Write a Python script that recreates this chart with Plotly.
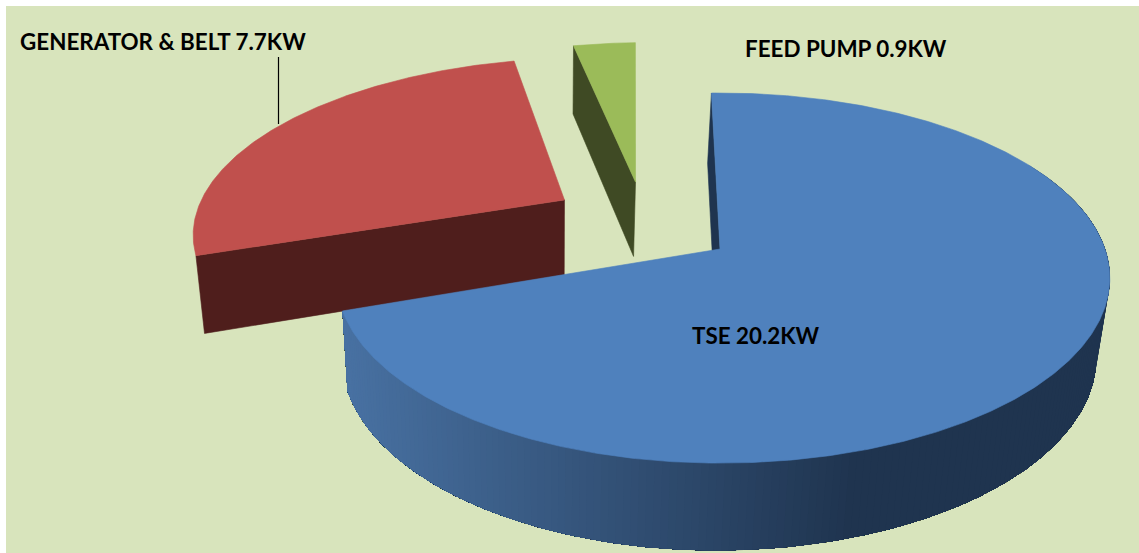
import math
import plotly.graph_objects as go

# ---- data ----
labels = ["TSE", "GENERATOR & BELT", "FEED PUMP"]
values_kw = [20.2, 7.7, 0.9]
label_texts = ["TSE 20.2KW", "GENERATOR & BELT 7.7KW", "FEED PUMP 0.9KW"]
top_colors = ["#4f81bd", "#c0504d", "#9bbb59"]
wall_colors = ["#1f344f", "#4f1e1c", "#3f4a24"]
explode_x = [0.0, -0.422, -0.233]
explode_y = [0.0, 0.284, 0.394]
slice_radius = [1.0, 0.985, 1.0]
slice_turn = [0.0, 0.0, -0.5]
label_x = [756, 163, 846]
label_y = [335, 41, 48]

# ---- projection of the tilted pie ----
W, H = 1139, 553
CX, CY, F, G, K = 720, 249, 385, 180.5, 0.157
LEFT_SQUEEZE = 0.984
START_DEG = -1.5
BG = "#d8e4bc"


def top_pt(X, Y):
    d = 1 + K * Y
    return CX + F * X / d, CY - G * Y / d


def low_pt(X, Y):
    x, y = top_pt(X, Y)
    return 716 + 0.976 * (x - CX), 1.046 * y + 66


def rim(i, deg):
    a = math.radians(deg + slice_turn[i])
    sx = math.sin(a) * slice_radius[i]
    if i == 0 and sx < 0:
        sx *= LEFT_SQUEEZE
    return sx + explode_x[i], math.cos(a) * slice_radius[i] + explode_y[i]


def poly(fig, pts, color, width=0.6):
    xs = [p[0] for p in pts] + [pts[0][0]]
    ys = [p[1] for p in pts] + [pts[0][1]]
    fig.add_trace(go.Scatter(x=xs, y=ys, mode="lines", fill="toself", fillcolor=color,
                             line=dict(color=color, width=width), hoverinfo="skip",
                             showlegend=False))


def mix(c1, c2, t):
    return "rgb(%d,%d,%d)" % tuple(round(a + (b - a) * t) for a, b in zip(c1, c2))


total = sum(values_kw)
spans = []
angle = START_DEG
for v in values_kw:
    spans.append((angle, angle + v / total * 360))
    angle += v / total * 360

fig = go.Figure()

# green and red slices first (further back), blue last
for i in (2, 1, 0):
    a0, a1 = spans[i]
    ex, ey = explode_x[i], explode_y[i]
    n = max(6, int((a1 - a0) * 2))
    arc = [rim(i, a0 + (a1 - a0) * j / n) for j in range(n + 1)]

    if i == 0:
        # radial wall at the slice start
        poly(fig, [top_pt(*arc[0]), low_pt(*arc[0]), low_pt(ex, ey), top_pt(ex, ey)], wall_colors[0])
        # outer wall: each band covers everything still to come, so no seams
        left = (72, 113, 162)
        right = (31, 52, 79)
        vis = [p for j, p in enumerate(arc) if a0 + (a1 - a0) * j / n >= 60]
        tail_top = [top_pt(*p) for p in vis]
        tail_low = [low_pt(*p) for p in vis]
        for j in range(0, len(vis) - 1, 2):
            xm = tail_top[j][0]
            t = min(1, max(0, (xm - 345) / (860 - 345)))
            # band from j to the left end of the wall
            poly(fig, tail_top[j:] + tail_low[j:][::-1], mix(left, right, t), width=0)
    else:
        # radial wall facing the viewer
        outer = arc[0]
        poly(fig, [top_pt(*outer), top_pt(ex, ey), low_pt(ex, ey), low_pt(*outer)], wall_colors[i])

    face = [top_pt(ex, ey)] + [top_pt(*p) for p in arc]
    poly(fig, face, top_colors[i])

# leader line of the generator label
fig.add_trace(go.Scatter(x=[278.5, 278.5], y=[57, 124], mode="lines",
                         line=dict(color="#000000", width=1.2), hoverinfo="skip", showlegend=False))

for t, x, y in zip(label_texts, label_x, label_y):
    fig.add_annotation(x=x, y=y, text=f"<b>{t}</b>", showarrow=False, xanchor="center", yanchor="middle",
                       font=dict(family="Lato", size=22.4, color="#000000"))

fig.update_layout(
    width=W, height=H, paper_bgcolor="#ffffff", plot_bgcolor=BG,
    margin=dict(l=6, r=0, t=6, b=0), showlegend=False,
    xaxis=dict(range=[6, W], visible=False, fixedrange=True),
    yaxis=dict(range=[H, 6], visible=False, fixedrange=True),
)
fig.write_html("out.html", config={"displayModeBar": False},
               post_script="document.body.style.margin='0';document.body.style.overflow='hidden';")
